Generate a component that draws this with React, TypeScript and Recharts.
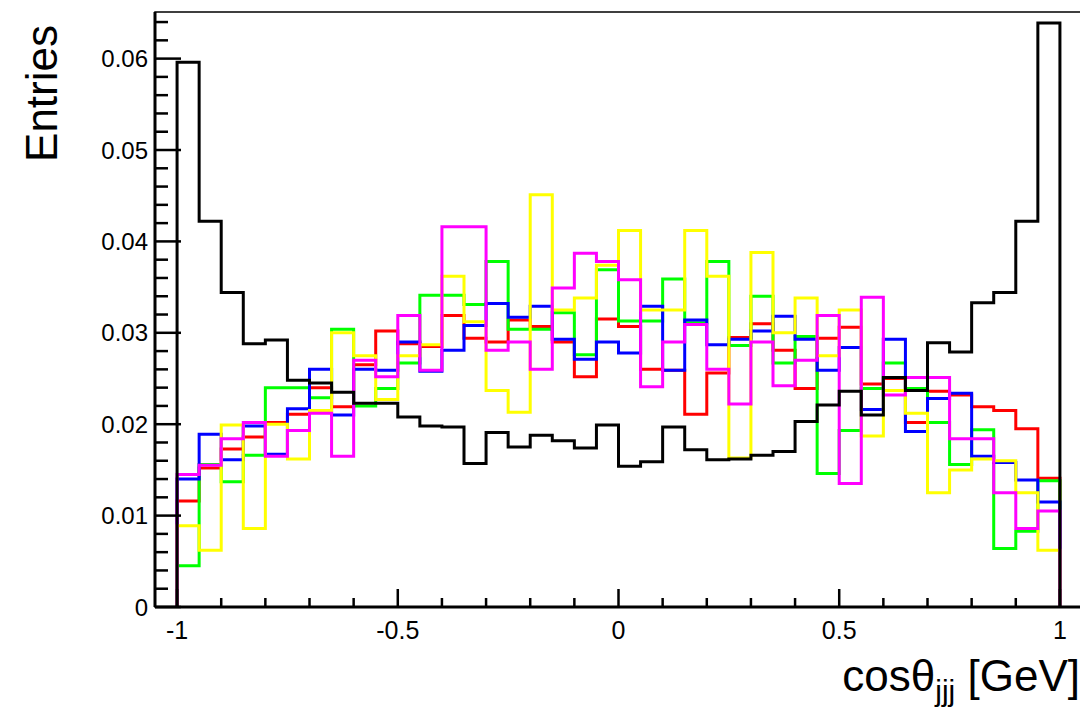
import React from 'react';
import { LineChart, Line, XAxis, YAxis, ReferenceArea, Label } from 'recharts';

// Histogram: 40 bins from -1 to 1
const NBINS = 40;
const X_LO = -1;
const X_HI = 1;

const blackValues = [
  0.0596, 0.0422, 0.0344, 0.0288, 0.0292, 0.0248, 0.0245, 0.0235, 0.0223, 0.0223,
  0.0208, 0.0198, 0.0197, 0.0157, 0.0191, 0.0175, 0.0188, 0.0182, 0.0174, 0.0199,
  0.0154, 0.0159, 0.0197, 0.0172, 0.0161, 0.0162, 0.0166, 0.0170, 0.0203, 0.0221,
  0.0236, 0.0210, 0.0251, 0.0237, 0.0289, 0.0279, 0.0333, 0.0344, 0.0422, 0.0639,
];
const redValues = [
  0.0116, 0.0152, 0.0173, 0.0186, 0.0202, 0.0211, 0.0240, 0.0219, 0.0265, 0.0302,
  0.0288, 0.0285, 0.0319, 0.0294, 0.0290, 0.0314, 0.0307, 0.0290, 0.0252, 0.0315,
  0.0307, 0.0260, 0.0259, 0.0211, 0.0256, 0.0295, 0.0310, 0.0281, 0.0239, 0.0294,
  0.0306, 0.0244, 0.0250, 0.0202, 0.0236, 0.0232, 0.0219, 0.0215, 0.0195, 0.0141,
];
const greenValues = [
  0.0045, 0.0156, 0.0137, 0.0166, 0.0240, 0.0240, 0.0229, 0.0304, 0.0220, 0.0239,
  0.0267, 0.0341, 0.0341, 0.0331, 0.0378, 0.0304, 0.0304, 0.0322, 0.0276, 0.0369,
  0.0313, 0.0313, 0.0359, 0.0311, 0.0378, 0.0286, 0.0340, 0.0267, 0.0296, 0.0146,
  0.0193, 0.0239, 0.0267, 0.0239, 0.0202, 0.0156, 0.0194, 0.0064, 0.0083, 0.0138,
];
const blueValues = [
  0.0140, 0.0189, 0.0161, 0.0198, 0.0167, 0.0217, 0.0260, 0.0210, 0.0260, 0.0259,
  0.0290, 0.0258, 0.0281, 0.0308, 0.0332, 0.0317, 0.0329, 0.0293, 0.0271, 0.0290,
  0.0278, 0.0329, 0.0259, 0.0314, 0.0287, 0.0293, 0.0302, 0.0318, 0.0293, 0.0259,
  0.0284, 0.0216, 0.0293, 0.0192, 0.0228, 0.0234, 0.0165, 0.0158, 0.0139, 0.0115,
];
const yellowValues = [
  0.0089, 0.0062, 0.0199, 0.0086, 0.0200, 0.0162, 0.0215, 0.0300, 0.0275, 0.0227,
  0.0275, 0.0287, 0.0362, 0.0312, 0.0237, 0.0213, 0.0451, 0.0325, 0.0338, 0.0374,
  0.0412, 0.0325, 0.0325, 0.0412, 0.0362, 0.0163, 0.0388, 0.0300, 0.0338, 0.0275,
  0.0325, 0.0187, 0.0237, 0.0212, 0.0125, 0.0150, 0.0162, 0.0160, 0.0125, 0.0062,
];
const magentaValues = [
  0.0145, 0.0155, 0.0184, 0.0202, 0.0165, 0.0193, 0.0212, 0.0165, 0.0270, 0.0252,
  0.0319, 0.0259, 0.0416, 0.0416, 0.0281, 0.0290, 0.0260, 0.0349, 0.0387, 0.0378,
  0.0358, 0.0241, 0.0290, 0.0309, 0.0260, 0.0222, 0.0290, 0.0242, 0.0270, 0.0319,
  0.0135, 0.0339, 0.0232, 0.0251, 0.0251, 0.0184, 0.0184, 0.0125, 0.0086, 0.0105,
];

// Draw order: coloured first, black last (on top)
const series = [
  { key: 'red', color: '#ff0000', values: redValues },
  { key: 'green', color: '#00ff00', values: greenValues },
  { key: 'blue', color: '#0000ff', values: blueValues },
  { key: 'yellow', color: '#ffff00', values: yellowValues },
  { key: 'magenta', color: '#ff00ff', values: magentaValues },
  { key: 'black', color: '#000000', values: blackValues },
];

const xMajorTicks = [-1, -0.5, 0, 0.5, 1];
const xTickLabels = ['-1', '-0.5', '0', '0.5', '1'];
const yMajorTicks = [0, 0.01, 0.02, 0.03, 0.04, 0.05, 0.06];
const yTickLabels = ['0', '0.01', '0.02', '0.03', '0.04', '0.05', '0.06'];

const X_DOMAIN: [number, number] = [-1.05, 1.05];
const Y_DOMAIN: [number, number] = [0, 0.0651];

const xTicks = Array.from({ length: 21 }, (_, i) => +(-1 + i * 0.1).toFixed(3));
const yTicks = Array.from({ length: 33 }, (_, i) => +(i * 0.002).toFixed(4));

const binWidth = (X_HI - X_LO) / NBINS;
const edges = Array.from({ length: NBINS + 1 }, (_, i) => +(X_LO + i * binWidth).toFixed(4));

function buildRows() {
  const rows: any[] = [];
  const zero: any = { x: X_LO };
  series.forEach((s) => (zero[s.key] = 0));
  rows.push(zero);
  for (let k = 0; k < NBINS; k++) {
    const r: any = { x: edges[k] };
    series.forEach((s) => (r[s.key] = s.values[k]));
    rows.push(r);
  }
  const last: any = { x: X_HI };
  series.forEach((s) => (last[s.key] = s.values[NBINS - 1]));
  rows.push(last);
  const end: any = { x: X_HI };
  series.forEach((s) => (end[s.key] = 0));
  rows.push(end);
  return rows;
}
const rows = buildRows();

const FONT = '"Liberation Sans", Arial, Helvetica, sans-serif';

const XTick = (props: any) => {
  const { x, y, payload } = props;
  const v = payload.value;
  const idx = xMajorTicks.findIndex((m) => Math.abs(m - v) < 1e-6);
  const major = idx >= 0;
  return (
    <g>
      <line x1={x} x2={x} y1={y} y2={y - (major ? 18 : 9)} stroke="#000" strokeWidth={2.5} />
      {major && (
        <text x={x} y={y + 23} textAnchor="middle" dominantBaseline="central" fontSize={25} fontFamily={FONT} fill="#000">
          {xTickLabels[idx]}
        </text>
      )}
    </g>
  );
};

const YTick = (props: any) => {
  const { x, y, payload } = props;
  const v = payload.value;
  const idx = yMajorTicks.findIndex((m) => Math.abs(m - v) < 1e-7);
  const major = idx >= 0;
  return (
    <g>
      <line x1={x} x2={x + (major ? 26 : 13)} y1={y} y2={y} stroke="#000" strokeWidth={2.5} />
      {major && (
        <text x={x - 7} y={y} textAnchor="end" dominantBaseline="central" fontSize={24} fontFamily={FONT} fill="#000">
          {yTickLabels[idx]}
        </text>
      )}
    </g>
  );
};

const XTitle = (props: any) => {
  const { viewBox } = props;
  const x = viewBox.x + viewBox.width - 2;
  const y = viewBox.y + 84;
  return (
    <text x={x} y={y} textAnchor="end" fontSize={44} fontFamily={FONT} fill="#000">
      cosθ
      <tspan fontSize={30} dy={10}>jjj</tspan>
      <tspan dy={-10}> [GeV]</tspan>
    </text>
  );
};

const YTitle = (props: any) => {
  const { viewBox } = props;
  const x = viewBox.x + 49;
  const y = viewBox.y + 13;
  return (
    <text x={x} y={y} transform={`rotate(-90 ${x} ${y})`} textAnchor="end" fontSize={44} fontFamily={FONT} fill="#000">
      Entries
    </text>
  );
};

export default function App() {
  return (
    <div style={{ width: 1080, height: 700, background: '#fff' }}>
      <LineChart width={1080} height={700} data={rows} margin={{ top: 4, right: 6, bottom: 0, left: 0 }}>
        <ReferenceArea x1={X_DOMAIN[0]} x2={X_DOMAIN[1]} y1={Y_DOMAIN[0]} y2={Y_DOMAIN[1]} fill="none" stroke="#000" strokeWidth={1.5} fillOpacity={0} ifOverflow="visible" />
        <XAxis
          type="number"
          dataKey="x"
          domain={X_DOMAIN}
          allowDataOverflow
          ticks={xTicks}
          interval={0}
          tickSize={0}
          tickMargin={0}
          tickLine={false}
          tick={<XTick />}
          height={101}
          axisLine={{ stroke: '#000', strokeWidth: 3 }}
        >
          <Label content={<XTitle />} />
        </XAxis>
        <YAxis
          type="number"
          domain={Y_DOMAIN}
          allowDataOverflow
          ticks={yTicks}
          interval={0}
          tickSize={0}
          tickMargin={0}
          tickLine={false}
          tick={<YTick />}
          width={147}
          axisLine={{ stroke: '#000', strokeWidth: 3 }}
        >
          <Label content={<YTitle />} />
        </YAxis>
        {series.map((s) => (
          <Line
            key={s.key}
            dataKey={s.key}
            type="stepAfter"
            stroke={s.color}
            strokeWidth={3}
            strokeLinejoin="miter"
            strokeLinecap="butt"
            dot={false}
            activeDot={false}
            isAnimationActive={false}
          />
        ))}
      </LineChart>
    </div>
  );
}
